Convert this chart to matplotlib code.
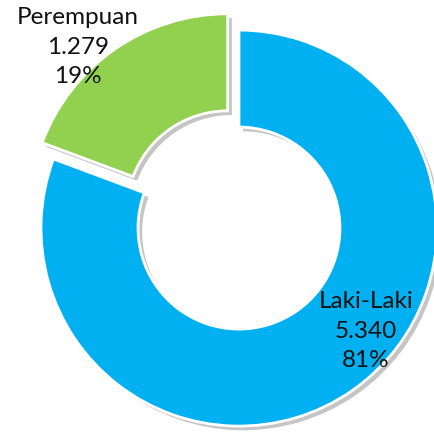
import matplotlib.pyplot as plt
import matplotlib.patheffects as pe

categories = ["Laki-Laki", "Perempuan"]
values = [5340, 1279]
percents = ["81%", "19%"]
value_labels = ["5.340", "1.279"]
colors = ["#00B0F0", "#92D050"]

plt.rcParams["font.family"] = ["Lato", "DejaVu Sans"]

fig = plt.figure(figsize=(4.35, 4.35), dpi=100)
ax = fig.add_axes([0, 0, 1, 1])

wedges, _ = ax.pie(values, colors=colors, startangle=90, counterclock=False,
                   explode=[0, 0.1], radius=1.0,
                   wedgeprops=dict(width=0.49, edgecolor="white", linewidth=2))
for w in wedges:
    w.set_path_effects([
        pe.SimplePatchShadow(offset=(3, -3), shadow_rgbFace="#808080", alpha=0.45),
        pe.Normal(),
    ])

ax.set_xlim(-1.207, 0.99)
ax.set_ylim(-1.04, 1.157)
ax.set_aspect("equal")
ax.axis("off")

# label positions (data units) for each slice
label_pos = [(0.641, -0.515), (-0.813, 0.919)]
for cat, val, pct, (x, y) in zip(categories, value_labels, percents, label_pos):
    ax.text(x, y, f"{cat}\n{val}\n{pct}", ha="center", va="center",
            fontsize=17.5, color="#111111", linespacing=1.5)

fig.savefig("out.png", dpi=100)
